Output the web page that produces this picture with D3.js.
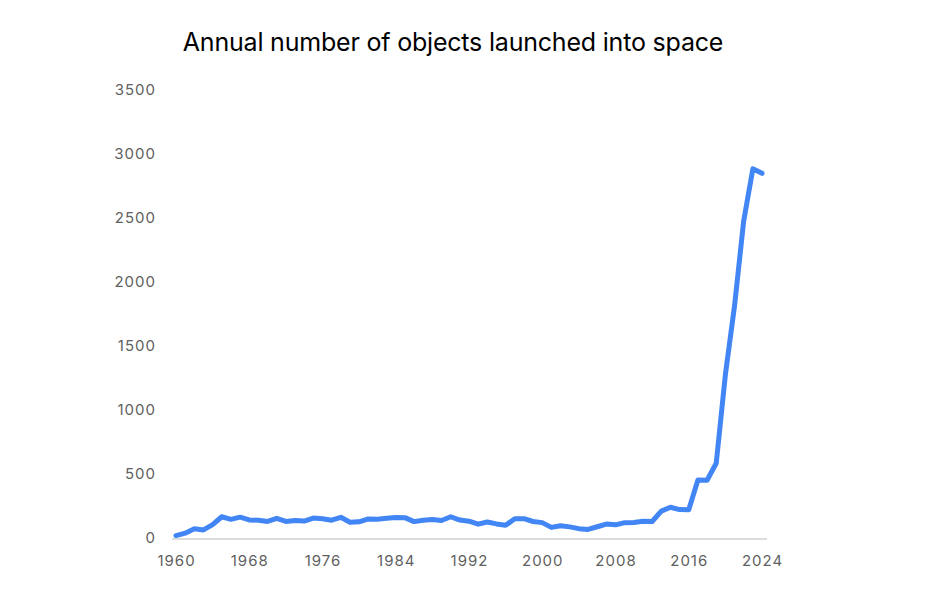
<!DOCTYPE html>
<html>
<head>
<meta charset="utf-8">
<script src="https://cdn.jsdelivr.net/npm/d3@7"></script>
<style>
  body { margin: 0; background: #fff; }
  text { font-family: Inter, "Noto Sans", sans-serif; }
</style>
</head>
<body>
<div class="chart"></div>
<script>
// annual objects launched
const years = d3.range(1960, 2025);
const launches = [
  19, 38, 72, 63, 104, 166, 146, 163, 141, 139,
  129, 153, 129, 137, 132, 156, 151, 139, 162, 123,
  126, 149, 147, 155, 160, 159, 128, 138, 144, 137,
  166, 140, 131, 108, 125, 110, 99, 151, 151, 129,
  120, 83, 96, 87, 73, 67, 88, 109, 103, 120,
  121, 131, 129, 210, 240, 222, 221, 453, 451, 584,
  1276, 1813, 2477, 2884, 2849
];
const yTicks = [0, 500, 1000, 1500, 2000, 2500, 3000, 3500];
const xTicks = [1960, 1968, 1976, 1984, 1992, 2000, 2008, 2016, 2024];

const width = 939, height = 590;

const svg = d3.select('.chart')
  .append('svg')
  .attr('width', width)
  .attr('height', height);

const x = d3.scaleLinear().domain([1960, 2024]).range([176, 762]);
const y = d3.scaleLinear().domain([0, 3500]).range([538, 90]);

// title
svg.append('text')
  .attr('x', 453)
  .attr('y', 51)
  .attr('text-anchor', 'middle')
  .style('font-size', '25px')
  .style('letter-spacing', '-0.2px')
  .style('fill', '#000')
  .text('Annual number of objects launched into space');

// y axis labels only
const yAxis = svg.append('g')
  .attr('transform', 'translate(156,0)')
  .call(d3.axisLeft(y).tickValues(yTicks).tickSize(0).tickPadding(0).tickFormat(d3.format('d')));
yAxis.select('.domain').remove();
yAxis.selectAll('text')
  .style('font-size', '15px')
  .style('letter-spacing', '1px')
  .style('font-family', 'Inter, sans-serif')
  .style('fill', '#5f5f5f');

// baseline
svg.append('line')
  .attr('x1', x(1960) - 4)
  .attr('x2', x(2024) + 5)
  .attr('y1', y(0) + 1)
  .attr('y2', y(0) + 1)
  .style('stroke', '#d0d0d0')
  .style('stroke-width', 1.5);

// x axis labels
const xAxis = svg.append('g')
  .attr('transform', 'translate(0,' + (y(0) + 17) + ')')
  .call(d3.axisBottom(x).tickValues(xTicks).tickSize(0).tickPadding(0).tickFormat(d3.format('d')));
xAxis.select('.domain').remove();
xAxis.selectAll('text')
  .style('font-size', '15px')
  .style('letter-spacing', '1px')
  .style('font-family', 'Inter, sans-serif')
  .style('fill', '#5f5f5f');

// the line
const line = d3.line()
  .x((d, i) => x(years[i]))
  .y(d => y(d));

svg.append('path')
  .datum(launches)
  .attr('d', line)
  .style('fill', 'none')
  .style('stroke', '#4285f4')
  .style('stroke-width', 5)
  .style('stroke-linejoin', 'round')
  .style('stroke-linecap', 'round');
</script>
</body>
</html>
